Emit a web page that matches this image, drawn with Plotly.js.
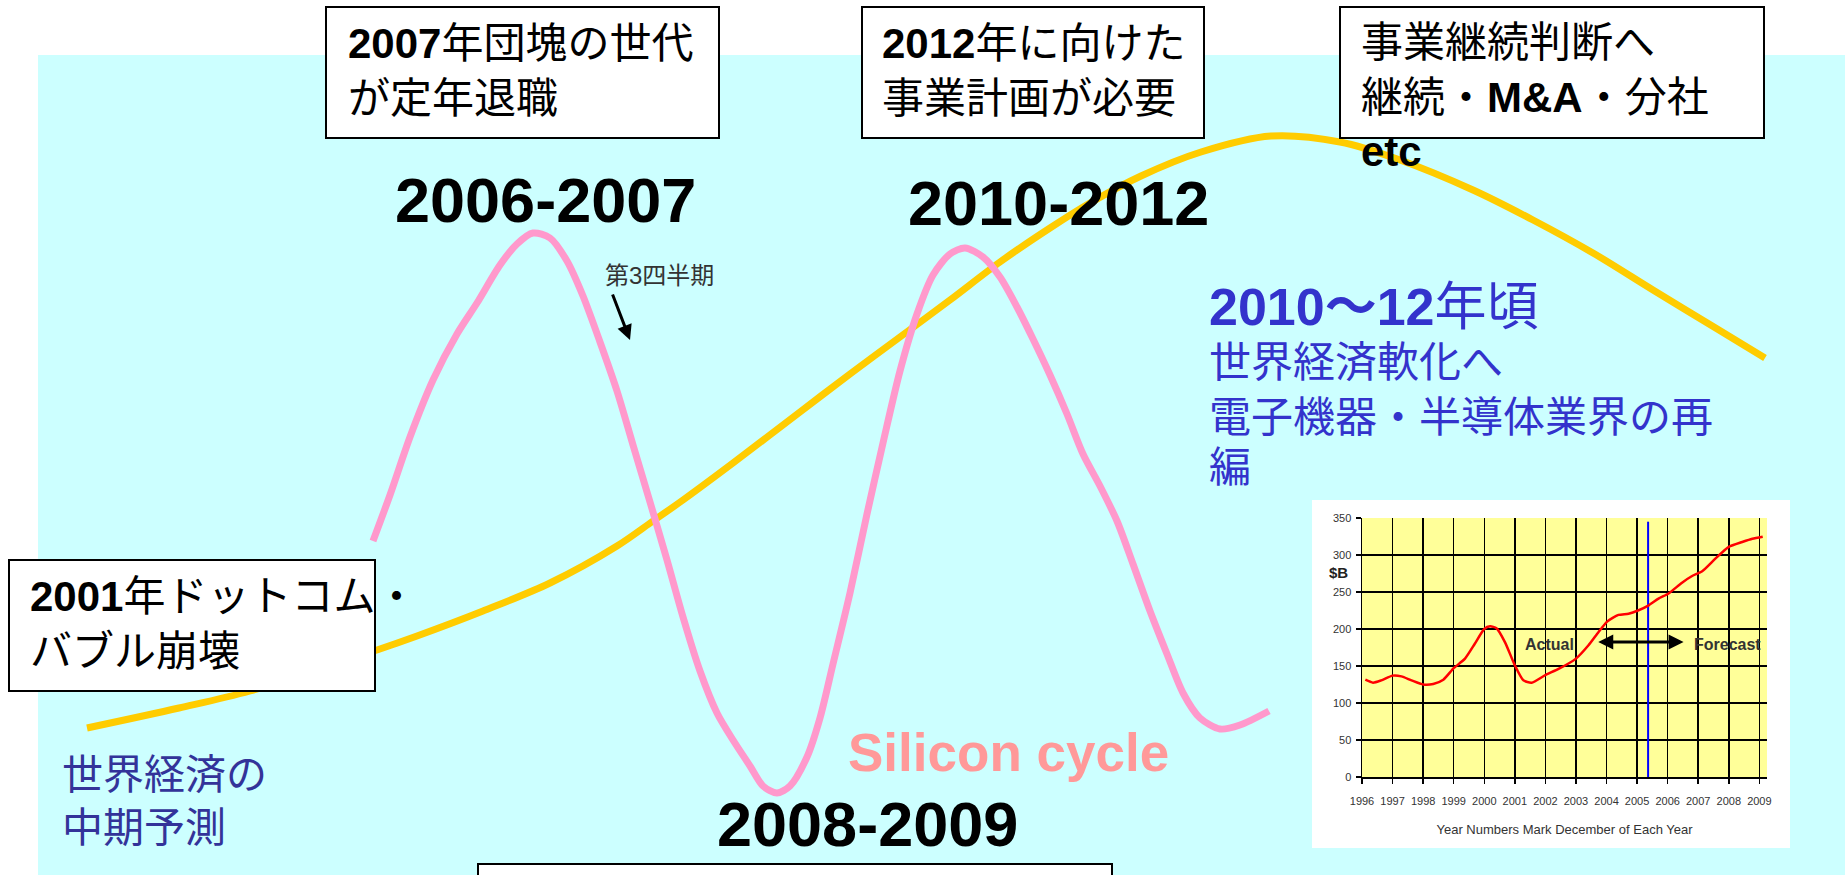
<!DOCTYPE html>
<html>
<head>
<meta charset="utf-8">
<script src="https://cdn.plot.ly/plotly-3.0.1.min.js"></script>
<style>
html,body{margin:0;padding:0;background:#ffffff;}
#chart{width:1845px;height:875px;}
</style>
</head>
<body>
<div id="chart"></div>
<script>
// ---- Conceptual curves (horizontal position t, relative level) ----
const cycleT = [373,390,410,433,457,477,500,517,533,550,567,583,600,617,633,650,667,683,700,717,733,750,763,777,790,807,820,833,850,867,883,900,917,933,950,965,983,1000,1017,1033,1050,1067,1083,1100,1117,1133,1150,1167,1183,1200,1220,1240,1269];
const cycleLevel = [334,380,438,495,541,572,610,631,642,637,614,579,533,484,430,373,315,258,204,162,135,109,89,82,89,118,157,211,282,361,432,504,561,600,621,627,618,598,568,536,500,461,421,389,354,311,264,221,182,157,146,150,164];

const economyT = [87,179,250,377,417,483,550,617,653,683,733,800,850,900,950,1000,1050,1090,1141,1201,1271,1340,1400,1473,1533,1593,1653,1714,1765];
const economyLevel = [147,167,184,225,239,264,292,329,354,375,412,463,501,538,575,613,647,672,699,723,739,733,715,685,655,622,585,548,517];

// ---- Inset: semiconductor market ($B) ----
const marketYears = [1996.11,1996.36,1996.63,1997.0,1997.29,1997.62,1998.0,1998.33,1998.66,1999.0,1999.37,1999.69,2000.0,2000.19,2000.4,2000.68,2001.0,2001.28,2001.55,2002.01,2002.43,2003.0,2003.41,2003.74,2004.02,2004.39,2004.72,2005.03,2005.38,2005.7,2006.03,2006.47,2006.8,2007.13,2007.56,2008.0,2008.44,2008.77,2009.11];
const marketValues = [131.5,127.5,130.6,137,136,130.6,125,125.7,131.5,147,160,180,200,203.6,201,182,151,130.6,127.5,138,146,160,178,196,210,219,220.7,225,232,241,248,262.6,271.6,278,295,311,317.6,322,324.8];
const insetYearTicks = [1996,1997,1998,1999,2000,2001,2002,2003,2004,2005,2006,2007,2008,2009];
const insetValueTicks = [0,50,100,150,200,250,300,350];
const forecastStartYear = 2005.36;
const forecastLineTop = 345;
const actualForecastArrow = {from: 2003.68, to: 2006.52, value: 182.4};

// ---- Texts ----
const box1Text = '<b>2007</b>年団塊の世代<br>が定年退職';
const box2Text = '<b>2012</b>年に向けた<br>事業計画が必要';
const box3Text = '事業継続判断へ<br>継続・<b>M&amp;A</b>・分社<br><b>etc</b>';
const box4Text = '<b>2001</b>年ドットコム・<br>バブル崩壊';
const periodLabels = ['2006-2007', '2010-2012', '2008-2009'];
const cycleLabel = 'Silicon cycle';
const quarterLabel = '第3四半期';
const blueHead = '<b>2010～12</b>年頃';
const blueBodyLines = ['世界経済軟化へ', '電子機器・半導体業界の再', '編'];
const economyLabel = '世界経済の<br>中期予測';
const insetXTitle = 'Year Numbers Mark December of Each Year';

const W = 1845, H = 875;
const FONT = 'Liberation Sans, Noto Sans CJK JP, sans-serif';
const px = x => x / W;
const py = y => 1 - y / H;

const traces = [
  {x: economyT, y: economyLevel, type: 'scatter', mode: 'lines', xaxis: 'x', yaxis: 'y',
   line: {color: '#FFCC00', width: 7, shape: 'spline', smoothing: 0.9}, hoverinfo: 'skip'},
  {x: cycleT, y: cycleLevel, type: 'scatter', mode: 'lines', xaxis: 'x', yaxis: 'y',
   line: {color: '#FF99CC', width: 7, shape: 'spline', smoothing: 0.8}, hoverinfo: 'skip'},
  {x: [forecastStartYear, forecastStartYear], y: [0, forecastLineTop], type: 'scatter', mode: 'lines',
   xaxis: 'x2', yaxis: 'y2', line: {color: '#0000FF', width: 2}, hoverinfo: 'skip'},
  {x: marketYears, y: marketValues, type: 'scatter', mode: 'lines', xaxis: 'x2', yaxis: 'y2',
   line: {color: '#FF0000', width: 2.5, shape: 'spline', smoothing: 0.6}, hoverinfo: 'skip'}
];

const boxStyle = {type: 'rect', xref: 'paper', yref: 'paper', layer: 'above',
  fillcolor: '#FFFFFF', line: {color: '#000000', width: 2}};

const shapes = [
  {type: 'rect', xref: 'paper', yref: 'paper', layer: 'below', x0: px(38), x1: 1, y0: 0, y1: py(55),
   fillcolor: '#CCFFFF', line: {width: 0}},
  {type: 'rect', xref: 'paper', yref: 'paper', layer: 'below', x0: px(1312), x1: px(1790), y0: py(848), y1: py(500),
   fillcolor: '#FFFFFF', line: {width: 0}},
  {type: 'rect', xref: 'x2 domain', yref: 'y2 domain', layer: 'below', x0: 0, x1: 1, y0: 0, y1: 1,
   fillcolor: '#FFFF99', line: {width: 0}},
  Object.assign({}, boxStyle, {x0: px(326), x1: px(719), y0: py(138), y1: py(7)}),
  Object.assign({}, boxStyle, {x0: px(862), x1: px(1204), y0: py(138), y1: py(7)}),
  Object.assign({}, boxStyle, {x0: px(1340), x1: px(1764), y0: py(138), y1: py(7)}),
  Object.assign({}, boxStyle, {x0: px(9), x1: px(375), y0: py(691), y1: py(560)}),
  Object.assign({}, boxStyle, {x0: px(478), x1: px(1112), y0: py(910), y1: py(864)})
];

function txt(text, x, y, size, color, opts) {
  return Object.assign({
    text: text, xref: 'paper', yref: 'paper', x: px(x), y: py(y),
    xanchor: 'left', yanchor: 'middle', align: 'left', showarrow: false,
    font: {family: FONT, size: size, color: color}
  }, opts || {});
}

const annotations = [
  txt(box1Text, 346, 71, 42, '#000000'),
  txt(box2Text, 880, 71, 42, '#000000'),
  txt(box3Text, 1359, 97, 42, '#000000'),
  txt(box4Text, 28, 624, 42, '#000000'),
  txt('<b>' + periodLabels[0] + '</b>', 545, 200, 63, '#000000', {xanchor: 'center'}),
  txt('<b>' + periodLabels[1] + '</b>', 1058, 203, 63, '#000000', {xanchor: 'center'}),
  txt('<b>' + periodLabels[2] + '</b>', 867, 824, 63, '#000000', {xanchor: 'center'}),
  txt('<b>' + cycleLabel + '</b>', 1008, 752, 53, '#FF9999', {xanchor: 'center'}),
  txt(quarterLabel, 603, 275, 24, '#333333'),
  {xref: 'paper', yref: 'paper', x: px(630), y: py(340), ax: -18, ay: -47, text: '',
   showarrow: true, arrowhead: 2, arrowsize: 1, arrowwidth: 3, arrowcolor: '#000000'},
  txt(blueHead, 1207, 307, 52, '#3333CC'),
  txt(blueBodyLines[0], 1207, 362, 42, '#3333CC'),
  txt(blueBodyLines[1], 1207, 417, 42, '#3333CC'),
  txt(blueBodyLines[2], 1207, 467, 42, '#3333CC'),
  txt(economyLabel, 60, 801, 41, '#333399'),
  txt('<b>$B</b>', 1338, 572, 15, '#222222', {xanchor: 'center'}),
  {xref: 'x2', yref: 'y2', x: 2002.12, y: 178.8, text: '<b>Actual</b>', showarrow: false,
   xanchor: 'center', yanchor: 'middle', font: {family: FONT, size: 16, color: '#333333'}},
  {xref: 'x2', yref: 'y2', x: 2007.95, y: 178.8, text: '<b>Forecast</b>', showarrow: false,
   xanchor: 'center', yanchor: 'middle', font: {family: FONT, size: 16, color: '#333333'}},
  {xref: 'x2', yref: 'y2', x: actualForecastArrow.to, y: actualForecastArrow.value,
   axref: 'x2', ayref: 'y2', ax: actualForecastArrow.from, ay: actualForecastArrow.value,
   text: '', showarrow: true, arrowhead: 2, arrowsize: 1, arrowwidth: 3, arrowside: 'end+start',
   arrowcolor: '#000000', standoff: 0, startstandoff: 0}
];

const layout = {
  width: W, height: H,
  margin: {l: 0, r: 0, t: 0, b: 0, pad: 0},
  paper_bgcolor: '#FFFFFF',
  plot_bgcolor: 'rgba(0,0,0,0)',
  showlegend: false,
  xaxis: {domain: [0, 1], range: [0, W], visible: false, fixedrange: true},
  yaxis: {domain: [0, 1], range: [0, H], visible: false, fixedrange: true},
  xaxis2: {
    domain: [px(1362), px(1767)], anchor: 'y2', range: [1996, 2009.25],
    tickvals: insetYearTicks, ticktext: insetYearTicks.map(String),
    showgrid: true, gridcolor: '#000000', gridwidth: 1.5,
    showline: true, linecolor: '#000000', linewidth: 1.5, zeroline: false,
    ticks: 'outside', ticklen: 5, tickcolor: '#000000', tickwidth: 1.5,
    ticklabelstandoff: 8,
    tickfont: {family: FONT, size: 11, color: '#333333'},
    title: {text: insetXTitle, font: {family: FONT, size: 13, color: '#333333'}, standoff: 19},
    fixedrange: true
  },
  yaxis2: {
    domain: [py(777), py(518)], anchor: 'x2', range: [0, 350],
    tickvals: insetValueTicks, ticktext: insetValueTicks.map(String),
    showgrid: true, gridcolor: '#000000', gridwidth: 1.5,
    showline: true, linecolor: '#000000', linewidth: 1.5, zeroline: false,
    ticks: 'outside', ticklen: 5, tickcolor: '#000000', tickwidth: 1.5,
    ticklabelstandoff: 2,
    tickfont: {family: FONT, size: 11, color: '#333333'},
    fixedrange: true
  },
  shapes: shapes,
  annotations: annotations
};

Plotly.newPlot('chart', traces, layout, {displayModeBar: false, staticPlot: true});
</script>
</body>
</html>
